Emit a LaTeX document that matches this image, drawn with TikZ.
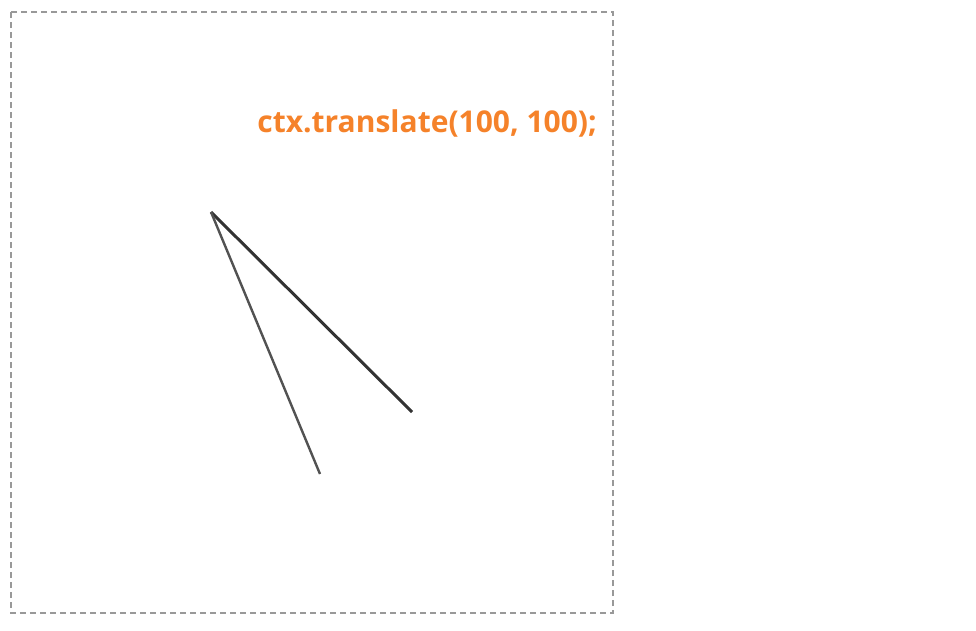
\documentclass[tikz,border=0pt]{standalone}
\usepackage{fontspec}
\newfontfamily\codefont{Open Sans}
\definecolor{codeorange}{HTML}{F5822A}
\definecolor{linegray}{HTML}{333333}

\begin{document}
\begin{tikzpicture}[x=1pt, y=-1pt]
	\useasboundingbox (0,0) rectangle (976,630);
	\draw [gray!80, line width=1.5pt, dash pattern = on 6pt off 4pt] (11,12) rectangle (613,613);
	\node [anchor=base east, inner sep=0pt, text=codeorange, font=\codefont\bfseries\fontsize{30}{34}\selectfont] (label) at (597,132) {ctx.translate(100, 100);};
	\coordinate (origin) at (211,212);
	\coordinate (tipa) at (412,412);
	\coordinate (tipb) at (320,474);
	\draw [linegray, line width=3pt] (origin) -- (tipa);
	\draw [linegray!85, line width=2.4pt] (origin) -- (tipb);
\end{tikzpicture}
\end{document}
